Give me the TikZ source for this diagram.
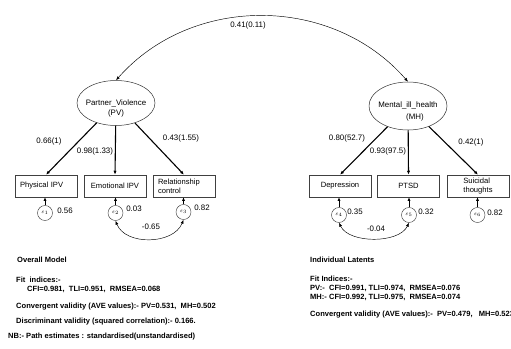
\documentclass[tikz,border=0pt]{standalone}
\usepackage{fontspec}
\setmainfont{Liberation Sans}
\usetikzlibrary{arrows.meta,shapes.geometric}
\begin{document}
\begin{tikzpicture}[x=1pt,y=-1pt,
  lat/.style={draw=black!80,line width=0.5pt,ellipse,minimum width=78pt,minimum height=45pt,inner sep=0},
  obs/.style={draw=black!75,line width=0.5pt,minimum width=62pt,minimum height=22pt,inner sep=0,font=\fontsize{7.6}{9}\selectfont},
  obsleft/.style={obs,text width=52pt,align=left},
  err/.style={draw=black!75,line width=0.45pt,circle,minimum size=15pt,inner sep=0,font=\fontsize{5}{5}\selectfont},
  load/.style={line width=1.1pt,-{Latex[length=4pt,width=3.2pt]}},
  errarr/.style={line width=0.8pt,-{Latex[length=3.5pt,width=3pt]}},
  cov/.style={line width=0.45pt,{Latex[length=4pt,width=3pt]}-{Latex[length=4pt,width=3pt]}},
  lab/.style={font=\fontsize{7.9}{9}\selectfont,inner sep=0},
  latlab/.style={font=\fontsize{7.9}{10}\selectfont,inner sep=0,align=center},
  note/.style={font=\bfseries\fontsize{7.55}{8}\selectfont,anchor=west,inner sep=0},
]
\useasboundingbox (0,0) rectangle (511,348);

% latent variables
\node[lat] (pv) at (116,103) {};
\node[latlab] (pvt) at (116,108) {Partner\_Violence\\(PV)};
\node[lat,minimum height=48pt] (mh) at (408,106) {};
\node[latlab] (mht1) at (408,105) {Mental\_ill\_health};
\node[latlab] (mht2) at (415,117) {(MH)};

% covariance between the latents
\draw[cov] (pv.north) .. controls +(76,-86) and +(-76,-87) .. (mh.north);
\node[lab] (r12) at (248,25) {0.41(0.11)};

% indicators
\node[obsleft] (phys) at (46,186) {Physical IPV};
\node[obs] (emo) at (115,186) {Emotional IPV};
\node[obsleft] (rel) at (184,186) {Relationship\\control};
\node[obs] (dep) at (340,186) {Depression};
\node[obs] (ptsd) at (408.5,186) {PTSD};
\node[obs,align=left] (sui) at (478,186) {Suicidal\\thoughts};

% loadings
\draw[load] (pv) -- (phys.north);
\draw[load] (pv) -- (emo.north);
\draw[load] (pv) -- (rel.north);
\draw[load] (mh) -- (dep.north);
\draw[load] (mh) -- (ptsd.north);
\draw[load] (mh) -- (sui.north);
\node[lab] (l1) at (49,141) {0.66(1)};
\node[lab] (l2) at (95,151) {0.98(1.33)};
\node[lab] (l3) at (181,138) {0.43(1.55)};
\node[lab] (l4) at (347,138) {0.80(52.7)};
\node[lab] (l5) at (388,151) {0.93(97.5)};
\node[lab] (l6) at (471,142) {0.42(1)};

% error terms
\node[err] (e1) at (45,213) {$\varepsilon_1$};
\node[err] (e2) at (115.5,213) {$\varepsilon_2$};
\node[err] (e3) at (183.5,212) {$\varepsilon_3$};
\node[err] (e4) at (339,215) {$\varepsilon_4$};
\node[err] (e5) at (409,215) {$\varepsilon_5$};
\node[err] (e6) at (477.5,215) {$\varepsilon_6$};
\foreach \e/\o in {e1/phys,e2/emo,e3/rel,e4/dep,e5/ptsd,e6/sui}
  \draw[errarr] (\e.north) -- (\e.north |- \o.south);
\node[lab] (v1) at (65,211) {0.56};
\node[lab] (v2) at (134,209) {0.03};
\node[lab] (v3) at (202,208) {0.82};
\node[lab] (v4) at (355,212) {0.35};
\node[lab] (v5) at (426,212) {0.32};
\node[lab] (v6) at (495,213) {0.82};

% error covariances
\draw[cov] (e2.south) .. controls +(10,25) and +(-10,25) .. (e3.south);
\node[lab] (c23) at (151,227) {-0.65};
\draw[cov] (e4.south) .. controls +(10,21) and +(-10,21) .. (e5.south);
\node[lab] (c45) at (376,229) {-0.04};

% fit summary, overall model
\node[note] (n1) at (17,260) {Overall Model};
\node[note] (n2) at (16,280) {Fit\ \ indices:-};
\node[note] (n3) at (27,289) {CFI=0.981,\ \ TLI=0.951,\ \ RMSEA=0.068};
\node[note] (n4) at (16,307) {Convergent validity (AVE values):- PV=0.531,\ \ MH=0.502};
\node[note] (n5) at (16,322) {Discriminant validity (squared correlation):- 0.166.};
\node[note] (n6) at (8,337) {NB:- Path estimates : standardised(unstandardised)};

% fit summary, individual latents
\node[note] (m1) at (310,260) {Individual Latents};
\node[note] (m2) at (310,279) {Fit Indices:-};
\node[note] (m3) at (310,288) {PV:-\ \ CFI=0.991, TLI=0.974,\ \ RMSEA=0.076};
\node[note] (m4) at (310,297) {MH:- CFI=0.992, TLI=0.975,\ \ RMSEA=0.074};
\node[note] (m5) at (310,315) {Convergent validity (AVE values):-\ \ PV=0.479,\ \ \ MH=0.523};
\end{tikzpicture}
\end{document}
